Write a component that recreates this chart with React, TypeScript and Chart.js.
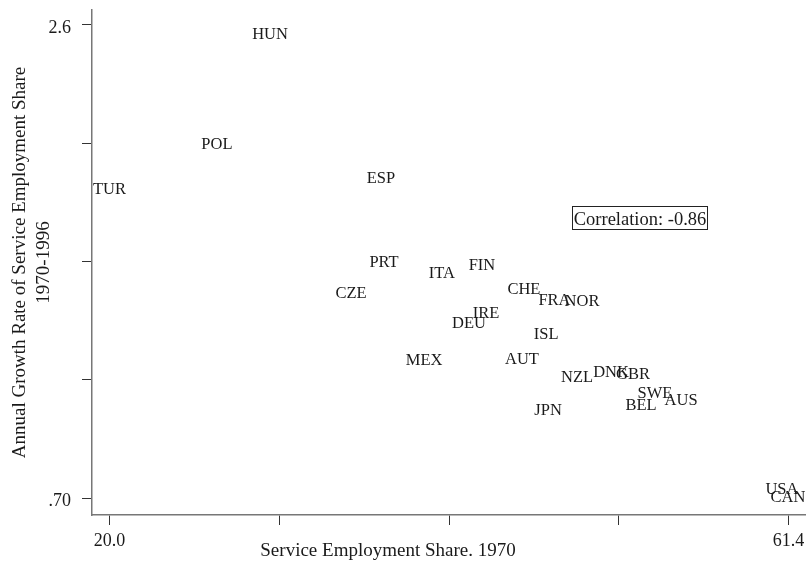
import React, { useEffect, useRef } from "react";
import { Chart, registerables } from "chart.js";

Chart.register(...registerables);

const countries = [
  "HUN", "POL", "ESP", "TUR", "PRT", "ITA", "FIN", "CHE", "CZE", "FRA", "NOR",
  "IRE", "DEU", "ISL", "MEX", "AUT", "NZL", "DNK", "GBR", "SWE", "AUS", "BEL",
  "JPN", "USA", "CAN",
];
const serviceShare1970 = [
  29.79, 26.55, 36.55, 20.0, 36.74, 40.27, 42.71, 45.27, 34.73, 47.13, 48.81,
  42.96, 41.92, 46.62, 39.18, 45.15, 48.51, 50.58, 51.92, 53.26, 54.85, 52.41,
  46.74, 61.0, 61.37,
];
const growthRate = [
  2.564, 2.122, 1.989, 1.945, 1.652, 1.606, 1.636, 1.54, 1.525, 1.497, 1.495,
  1.447, 1.405, 1.361, 1.256, 1.26, 1.19, 1.21, 1.202, 1.122, 1.094, 1.074,
  1.056, 0.74, 0.706,
];
const xTicks = [20.0, 30.35, 40.7, 51.05, 61.4];
const xTickLabels = ["20.0", "", "", "", "61.4"];
const yTicks = [0.7, 1.175, 1.65, 2.125, 2.6];
const yTickLabels = [".70", "", "", "", "2.6"];
const xTitle = "Service Employment Share. 1970";
const yTitleLines = ["Annual Growth Rate of Service Employment Share", "1970-1996"];
const correlationText = "Correlation: -0.86";

const FONT = '"Liberation Serif", "Times New Roman", serif';

export default function App() {
  const ref = useRef<HTMLCanvasElement | null>(null);

  useEffect(() => {
    if (!ref.current) return;
    const labelPlugin = {
      id: "countryLabels",
      afterDatasetsDraw(chart: any) {
        const ctx = chart.ctx;
        const meta = chart.getDatasetMeta(0);
        ctx.save();
        ctx.font = `16.5px ${FONT}`;
        ctx.fillStyle = "#1a1a1a";
        ctx.textAlign = "center";
        ctx.textBaseline = "alphabetic";
        meta.data.forEach((pt: any, i: number) => {
          ctx.fillText(countries[i], pt.x, pt.y + 5.5);
        });
        ctx.restore();
      },
      afterDraw(chart: any) {
        const ctx = chart.ctx;
        ctx.save();
        ctx.font = `18.5px ${FONT}`;
        ctx.fillStyle = "#1a1a1a";
        ctx.strokeStyle = "#222";
        ctx.lineWidth = 1;
        ctx.strokeRect(572.5, 206.5, 135, 23);
        ctx.textAlign = "center";
        ctx.textBaseline = "alphabetic";
        ctx.fillText(correlationText, 640, 224.5);
        ctx.font = `19px ${FONT}`;
        ctx.fillText(xTitle, 388, 556);
        const cy = (chart.chartArea.top + chart.chartArea.bottom) / 2;
        const xs = [25, 48.5];
        yTitleLines.forEach((line, i) => {
          ctx.save();
          ctx.translate(xs[i], cy);
          ctx.rotate(-Math.PI / 2);
          ctx.fillText(line, 0, 0);
          ctx.restore();
        });
        ctx.restore();
      },
    };

    const chart = new Chart(ref.current, {
      type: "scatter",
      data: {
        datasets: [
          {
            data: countries.map((c, i) => ({ x: serviceShare1970[i], y: growthRate[i] })),
            pointRadius: 0,
            pointHoverRadius: 0,
            showLine: false,
          },
        ],
      },
      options: {
        animation: false,
        responsive: false,
        events: [],
        layout: { padding: { top: 10, right: 4, left: 0, bottom: 0 } },
        plugins: {
          legend: { display: false },
          tooltip: { enabled: false },
          title: { display: false },
        },
        scales: {
          x: {
            type: "linear",
            min: 18.933,
            max: 62.406,
            afterFit(s: any) {
              s.height = 47;
              s.paddingLeft = 0;
              s.paddingRight = 0;
            },
            afterBuildTicks(s: any) {
              s.ticks = xTicks.map((v) => ({ value: v }));
            },
            ticks: {
              autoSkip: false,
              maxRotation: 0,
              padding: 5,
              color: "#1a1a1a",
              font: { family: FONT, size: 18 },
              callback: (v: any, i: number) => xTickLabels[i],
            },
            grid: {
              drawOnChartArea: false,
              drawTicks: true,
              tickLength: 10,
              color: "#333",
              lineWidth: 1,
            },
            border: { display: true, color: "#777", width: 1.5 },
          },
          y: {
            type: "linear",
            min: 0.632,
            max: 2.66,
            afterFit(s: any) {
              s.width = 92;
              s.paddingTop = 0;
              s.paddingBottom = 0;
            },
            afterBuildTicks(s: any) {
              s.ticks = yTicks.map((v) => ({ value: v }));
            },
            ticks: {
              autoSkip: false,
              padding: 11,
              labelOffset: 3,
              color: "#1a1a1a",
              font: { family: FONT, size: 18 },
              callback: (v: any, i: number) => yTickLabels[i],
            },
            grid: {
              drawOnChartArea: false,
              drawTicks: true,
              tickLength: 10,
              color: "#333",
              lineWidth: 1,
            },
            border: { display: true, color: "#777", width: 1.5 },
          },
        },
      },
      plugins: [labelPlugin],
    } as any);
    return () => chart.destroy();
  }, []);

  return (
    <div style={{ position: "absolute", left: 0, top: 0, width: 809, height: 562, background: "#fff" }}>
      <canvas ref={ref} width={809} height={562} style={{ display: "block" }} />
    </div>
  );
}
